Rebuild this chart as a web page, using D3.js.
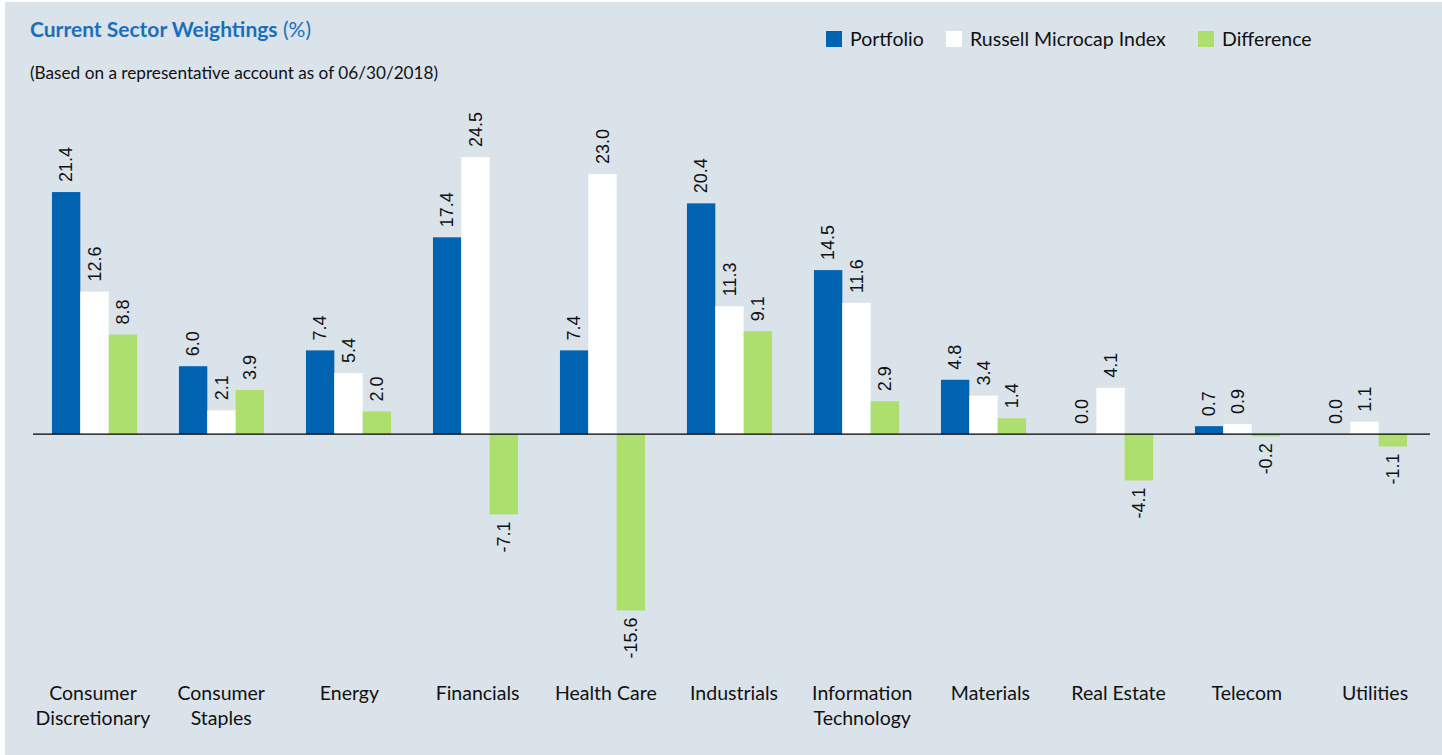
<!DOCTYPE html>
<html>
<head>
<meta charset="utf-8">
<script src="https://cdn.jsdelivr.net/npm/d3@7"></script>
<style>
  body { margin: 0; background: #fff; }
  svg { display: block; }
</style>
</head>
<body>
<svg></svg>
<script>
var sectors = ['Consumer Discretionary', 'Consumer Staples', 'Energy', 'Financials', 'Health Care',
               'Industrials', 'Information Technology', 'Materials', 'Real Estate', 'Telecom', 'Utilities'];
var sectorLines = [['Consumer', 'Discretionary'], ['Consumer', 'Staples'], ['Energy'], ['Financials'],
                   ['Health Care'], ['Industrials'], ['Information', 'Technology'], ['Materials'],
                   ['Real Estate'], ['Telecom'], ['Utilities']];
var portfolio = [21.4, 6.0, 7.4, 17.4, 7.4, 20.4, 14.5, 4.8, 0.0, 0.7, 0.0];
var russell   = [12.6, 2.1, 5.4, 24.5, 23.0, 11.3, 11.6, 3.4, 4.1, 0.9, 1.1];
var diff      = [8.8, 3.9, 2.0, -7.1, -15.6, 9.1, 2.9, 1.4, -4.1, -0.2, -1.1];
var seriesNames = ['Portfolio', 'Russell Microcap Index', 'Difference'];

var w = 1442, h = 755;
var colors = ['#0063b1', '#ffffff', '#addf6f'];

var svg = d3.select('svg').attr('width', w).attr('height', h);

svg.append('rect')
   .attr('x', 5).attr('y', 2)
   .attr('width', w - 5).attr('height', h - 2)
   .attr('fill', '#dae2ea');

// title
var title = svg.append('text')
   .attr('x', 30).attr('y', 37)
   .attr('font-family', 'Lato')
   .attr('font-size', 21)
   .attr('fill', '#1a6fbd');
title.append('tspan').attr('font-weight', 'bold').text('Current Sector Weightings');
title.append('tspan').text(' (%)');

svg.append('text')
   .attr('x', 30).attr('y', 79)
   .attr('font-family', 'Lato')
   .attr('font-size', 17.2)
   .attr('fill', '#111')
   .text('(Based on a representative account as of 06/30/2018)');

// legend
var legendX = [826, 946, 1198];
var legend = svg.append('g').selectAll('g')
   .data(seriesNames).enter().append('g')
   .attr('transform', function(d, i){ return 'translate(' + legendX[i] + ',31)'; });
legend.append('rect')
   .attr('width', 16).attr('height', 16)
   .attr('fill', function(d, i){ return colors[i]; });
legend.append('text')
   .attr('x', 24).attr('y', 15)
   .attr('font-family', 'Lato')
   .attr('font-size', 19.5)
   .attr('fill', '#111')
   .text(function(d){ return d; });

// scales
var x = d3.scaleBand()
          .domain(sectors)
          .range([31, 1428])
          .paddingInner(0.33)
          .paddingOuter(0.165);
var xs = d3.scaleBand()
           .domain([0, 1, 2])
           .range([0, x.bandwidth()]);
var xLabel = d3.scalePoint()
               .domain(sectors)
               .range([93, 1375]);
var y = d3.scaleLinear()
          .domain([-15.6, 24.5])
          .range([610.5, 157]);

var rows = sectors.map(function(s, i){
  return { sector: s, values: [portfolio[i], russell[i], diff[i]] };
});

var groups = svg.append('g').selectAll('g')
   .data(rows).enter().append('g')
   .attr('transform', function(d){ return 'translate(' + x(d.sector) + ',0)'; });

var bars = groups.selectAll('g')
   .data(function(d){ return d.values.map(function(v, k){ return { k: k, v: v }; }); })
   .enter().append('g');

bars.append('rect')
    .attr('x', function(d){ return xs(d.k); })
    .attr('width', xs.bandwidth())
    .attr('y', function(d){ return Math.min(y(d.v), y(0)); })
    .attr('height', function(d){ return Math.abs(y(d.v) - y(0)); })
    .attr('fill', function(d){ return colors[d.k]; });

bars.append('text')
    .attr('transform', function(d){
      var cx = xs(d.k) + xs.bandwidth() / 2;
      var cy = d.v < 0 ? y(d.v) + 7 : y(d.v) - 10;
      return 'translate(' + cx + ',' + cy + ') rotate(-90)';
    })
    .attr('text-anchor', function(d){ return d.v < 0 ? 'end' : 'start'; })
    .attr('dy', '0.35em')
    .attr('font-family', 'Liberation Sans, Arial')
    .attr('font-size', 18)
    .attr('fill', '#111')
    .text(function(d){ return d.v.toFixed(1); });

// zero line
svg.append('line')
   .attr('x1', 33).attr('x2', 1430)
   .attr('y1', y(0)).attr('y2', y(0))
   .attr('stroke', '#000')
   .attr('stroke-width', 1.2);

// category labels
var labels = svg.append('g').selectAll('text')
   .data(sectors).enter().append('text')
   .attr('x', function(d){ return xLabel(d); })
   .attr('y', 700)
   .attr('text-anchor', 'middle')
   .attr('font-family', 'Lato')
   .attr('font-size', 19.5)
   .attr('fill', '#111');
labels.selectAll('tspan')
   .data(function(d, i){ return sectorLines[i]; })
   .enter().append('tspan')
   .attr('x', function(){ return xLabel(this.parentNode.__data__); })
   .attr('dy', function(d, i){ return i === 0 ? 0 : 25; })
   .text(function(d){ return d; });
</script>
</body>
</html>
